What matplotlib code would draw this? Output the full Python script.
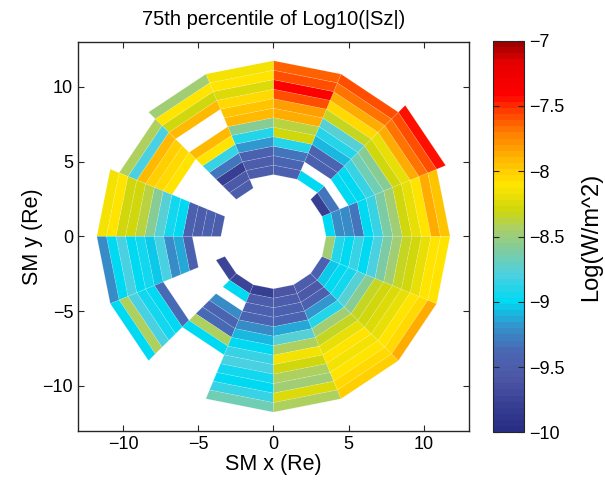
import numpy as np
import matplotlib
matplotlib.use("Agg")
import matplotlib.pyplot as plt
from matplotlib.collections import PolyCollection
from matplotlib.colors import LinearSegmentedColormap, Normalize
from matplotlib.ticker import FuncFormatter

plt.rcParams["font.family"] = ["Liberation Sans", "DejaVu Sans"]

# radial bin edges (Re); last ring only used on one sector
r_edges = [3.5, 4.135, 4.77, 5.404, 6.038, 6.673, 7.308, 7.942,
           8.577, 9.212, 9.846, 10.481, 11.115, 11.75, 12.4]
n_sectors = 16  # 22.5 deg wide azimuthal sectors, counter-clockwise from +x

# 75th percentile of log10(|Sz|) per sector, inner ring -> outer ring
sz_p75 = [
    [-9.0, -9.25, -9.25, -9.3, -9.0, -8.85, -8.6, -8.5, -8.3, -8.2, -8.1, -7.85, -7.95, None],
    [-9.8, -9.3, None, -9.0, -9.0, -8.85, -8.65, -8.55, -8.3, -8.2, -7.85, -7.7, -7.6, -7.45],
    [None, -9.0, None, -9.45, -9.4, -9.1, -8.9, -8.75, -8.35, -8.05, -7.85, -7.7, -7.6, None],
    [None, -9.45, -9.4, -9.3, -8.9, -8.3, -8.4, -7.85, -7.8, -7.6, -7.4, -7.6, -7.65, None],
    [None, -9.5, -9.5, -9.45, -9.2, -8.9, -8.55, -7.9, -7.95, -8.05, -8.25, -8.1, -8.15, None],
    [-9.5, -9.55, -9.8, -9.3, -8.85, -8.1, -7.9, None, None, -7.9, -8.3, -8.1, -8.5, None],
    [None, None, None, None, None, None, -8.1, -8.05, -8.0, -7.9, -8.8, -8.45, None, None],
    [-9.5, -9.45, -9.5, -9.45, -9.0, -8.95, -8.75, -8.55, -8.4, -8.3, -8.3, -8.1, -8.15, None],
    [None, None, None, -9.45, -9.15, -9.25, -8.8, -9.05, -8.95, -9.0, -8.8, -9.0, -9.25, None],
    [-9.75, None, None, None, None, None, None, -9.35, -9.0, -8.95, -8.8, -8.45, -9.0, None],
    [-9.75, -9.0, None, -9.25, -9.4, -9.35, -8.45, -9.0, None, None, None, None, None, None],
    [-9.8, -9.5, -9.45, -9.4, -9.25, -9.1, -9.0, -8.85, -8.8, -8.95, -9.0, -8.85, -8.65, None],
    [-9.6, -9.5, -9.45, -9.4, -9.15, -8.75, -8.45, -8.15, -8.3, -8.45, -8.5, -8.25, -8.45, None],
    [-9.5, -9.55, -9.45, -9.2, -8.9, -8.5, -8.35, -8.2, -8.1, -8.15, -8.1, -8.05, -8.0, None],
    [-9.45, -9.05, -9.0, -8.95, -8.75, -8.55, -8.35, -8.3, -8.25, -8.2, -8.1, -8.05, -7.85, None],
    [-8.5, -8.9, -9.0, -8.85, -9.0, -8.8, -8.6, -8.5, -8.35, -8.3, -8.2, -8.1, -8.1, None],
]

clim = (-10.0, -7.0)
cbar_ticks = [-10, -9.5, -9, -8.5, -8, -7.5, -7]

# softened jet, 64 discrete levels
cmap_nodes = [
    (-10.0, (0.15, 0.18, 0.52)), (-9.8, (0.22, 0.25, 0.58)),
    (-9.6, (0.30, 0.34, 0.65)), (-9.4, (0.29, 0.40, 0.70)),
    (-9.2, (0.20, 0.58, 0.80)), (-9.0, (0.00, 0.85, 0.95)),
    (-8.8, (0.30, 0.82, 0.88)), (-8.6, (0.50, 0.80, 0.62)),
    (-8.45, (0.66, 0.81, 0.42)), (-8.3, (0.80, 0.84, 0.05)),
    (-8.1, (1.00, 0.90, 0.00)), (-7.9, (1.00, 0.72, 0.00)),
    (-7.7, (1.00, 0.50, 0.00)), (-7.5, (1.00, 0.20, 0.00)),
    (-7.4, (1.00, 0.00, 0.00)), (-7.15, (0.90, 0.00, 0.00)),
    (-7.0, (0.62, 0.00, 0.00)),
]
pos = [(v - clim[0]) / (clim[1] - clim[0]) for v, _ in cmap_nodes]
cmap = LinearSegmentedColormap.from_list(
    "soft_jet", list(zip(pos, [c for _, c in cmap_nodes])), N=64)

values = np.array(sz_p75, dtype=float)
edges = np.radians(np.arange(n_sectors + 1) * 360.0 / n_sectors)

polys, cells = [], []
for k in range(n_sectors):
    t0, t1 = edges[k], edges[k + 1]
    for j in range(len(r_edges) - 1):
        v = values[k, j]
        if np.isnan(v):
            continue
        r0, r1 = r_edges[j], r_edges[j + 1]
        polys.append([(r0 * np.cos(t0), r0 * np.sin(t0)),
                      (r1 * np.cos(t0), r1 * np.sin(t0)),
                      (r1 * np.cos(t1), r1 * np.sin(t1)),
                      (r0 * np.cos(t1), r0 * np.sin(t1))])
        cells.append(v)

fig = plt.figure(figsize=(6.05, 4.83), dpi=100)
ax = fig.add_axes([0.129, 0.108, 0.646, 0.805])

pc = PolyCollection(polys, array=np.array(cells), cmap=cmap,
                    norm=Normalize(*clim), edgecolors=(1, 1, 1, 0.22),
                    linewidths=0.4)
ax.add_collection(pc)

ax.set_xlim(-13, 13)
ax.set_ylim(-13, 13)
ax.set_xticks([-10, -5, 0, 5, 10])
ax.set_yticks([-10, -5, 0, 5, 10])
ax.tick_params(direction="in", length=4, top=True, right=True,
               labelsize=13, color="0.15", width=0.8)
for s in ax.spines.values():
    s.set_color("0.15")
    s.set_linewidth(1.0)
ax.set_xlabel("SM x (Re)", fontsize=15.5, labelpad=1)
ax.set_ylabel("SM y (Re)", fontsize=15.5, labelpad=0)
ax.set_title("75th percentile of Log10(|Sz|)", fontsize=14.5, pad=12)

cax = fig.add_axes([0.8144, 0.105, 0.0517, 0.8107])
cbar = fig.colorbar(pc, cax=cax, ticks=cbar_ticks)
cbar.ax.yaxis.set_major_formatter(
    FuncFormatter(lambda v, _: f"{v:g}".replace("-", "\u2212")))
cbar.ax.tick_params(direction="in", length=4, left=True, right=True,
                    labelsize=13, color="0.15", width=0.8)
cbar.outline.set_edgecolor("0.15")
cbar.set_label("Log(W/m^2)", fontsize=17, labelpad=11)

fig.savefig("out.png", dpi=100)
